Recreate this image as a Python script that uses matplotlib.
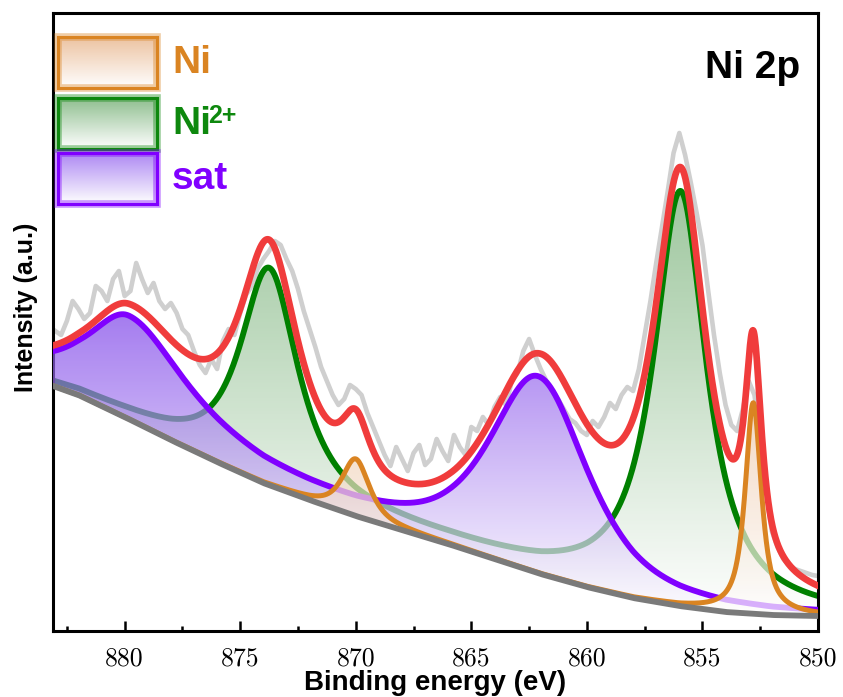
import numpy as np
import matplotlib
matplotlib.use('Agg')
import matplotlib.pyplot as plt
from matplotlib.patches import PathPatch, Rectangle
from matplotlib.ticker import MultipleLocator

plt.rcParams['font.family'] = ['Liberation Sans', 'DejaVu Sans']

# raw spectrum, 883 -> 850 eV every 0.25 eV (arbitrary intensity units)
raw_start, raw_step = 883.0, -0.25
raw_counts = [300, 296, 310, 330,   # 883
              322, 312, 318, 345,   # 882
              340, 330, 352, 360,   # 881
              335, 340, 368, 352,   # 880
              338, 348, 330, 322,   # 879
              328, 318, 302, 296,   # 878
              280, 266, 258, 272,   # 877
              262, 290, 302, 296,   # 876
              318, 336, 345, 362,   # 875
              372, 380, 390, 386,   # 874
              372, 360, 342, 320,   # 873
              302, 284, 264, 250,   # 872
              236, 226, 232, 246,   # 871
              242, 236, 218, 204,   # 870
              190, 176, 165, 184,   # 869
              172, 160, 178, 186,   # 868
              166, 172, 192, 180,   # 867
              170, 196, 184, 176,   # 866
              204, 200, 214, 206,   # 865
              224, 234, 226, 250,   # 864
              258, 280, 292, 276,   # 863
              262, 250, 240, 232,   # 862
              222, 212, 208, 200,   # 861
              196, 210, 204, 214,   # 860
              228, 222, 236, 244,   # 859
              240, 262, 296, 330,   # 858
              368, 404, 440, 478,   # 857
              498, 476, 448, 418,   # 856
              386, 340, 296, 258,   # 855
              226, 206, 200, 222,   # 854
              250, 236, 196, 140,   # 853
              100, 84, 72, 66,      # 852
              62, 60, 58, 56,       # 851
              55]                   # 850

# Shirley-type background
bg_energy = [883.1, 882, 880, 878, 876, 874, 872, 870, 868, 866,
             864, 862, 860, 858, 856, 854, 852, 850]
bg_counts = [245, 236, 214, 191, 169, 148, 131, 115, 101, 87,
             72, 57, 44, 33, 25, 19, 16, 15]

# fitted components: centre, height, hwhm (high-BE side), hwhm (low-BE side), lorentz fraction
ni_center = [870.0, 852.8]
ni_height = [57, 211]
ni_w_hi = [0.7, 0.42]
ni_w_lo = [0.7, 0.42]
ni_eta = [0.75, 0.85]

ni2_center = [873.75, 855.95]
ni2_height = [215, 414]
ni2_w_hi = [1.48, 1.4]
ni2_w_lo = [1.48, 1.35]
ni2_eta = [0.85, 0.95]

sat_center = [879.8, 862.1]
sat_height = [101, 194]
sat_w_hi = [2.3, 2.5]
sat_w_lo = [3.1, 2.5]
sat_eta = [1.0, 0.65]


def pvoigt(E, c, h, w_hi, w_lo, eta):
    w = np.where(E >= c, w_hi, w_lo)
    d = (E - c) / w
    return h * (eta / (1 + d ** 2) + (1 - eta) * np.exp(-np.log(2) * d ** 2))


def component(E, centers, heights, w_hi, w_lo, eta):
    total = np.zeros_like(E)
    for i in range(len(centers)):
        total += pvoigt(E, centers[i], heights[i], w_hi[i], w_lo[i], eta[i])
    return total


E = np.linspace(883.1, 850, 1600)
bg = np.interp(E, bg_energy[::-1], bg_counts[::-1])
ni = bg + component(E, ni_center, ni_height, ni_w_hi, ni_w_lo, ni_eta)
ni2 = bg + component(E, ni2_center, ni2_height, ni2_w_hi, ni2_w_lo, ni2_eta)
sat = bg + component(E, sat_center, sat_height, sat_w_hi, sat_w_lo, sat_eta)
env = ni + ni2 + sat - 2 * bg
E_raw = raw_start + raw_step * np.arange(len(raw_counts))

fig = plt.figure(figsize=(8.43, 6.97), dpi=100)
ax = fig.add_axes([53 / 843, 1 - 631 / 697, 765 / 843, 618 / 697])


def gradient_img(top_color, n=256):
    # colour fades from top_color (top row) to white (bottom row)
    top = np.array(matplotlib.colors.to_rgb(top_color))
    t = np.linspace(0, 1, n)[:, None]
    img = np.ones((n, 1, 4))
    img[:, 0, :3] = (1 - t) * 1.0 + t * top
    return img


def gradient_fill(ax, x, ylow, yhigh, color, alpha, z):
    poly = ax.fill_between(x, ylow, yhigh, facecolor='none', edgecolor='none')
    path = poly.get_paths()[0]
    poly.remove()
    patch = PathPatch(path, facecolor='none', edgecolor='none', transform=ax.transData)
    ax.add_patch(patch)
    im = ax.imshow(gradient_img(color), extent=[x.min(), x.max(), ylow.min(), yhigh.max()],
                   origin='lower', aspect='auto', zorder=z, alpha=alpha,
                   interpolation='bilinear')
    im.set_clip_path(patch)


ax.plot(E_raw, raw_counts, color='#CFCFCF', lw=3.3, zorder=1, solid_joinstyle='round')

gradient_fill(ax, E, bg, ni2, '#74AF74', 0.7, 2)
ax.plot(E, ni2, color='#008000', lw=4.2, zorder=2.5)
gradient_fill(ax, E, bg, sat, '#7E44E9', 0.7, 3)
ax.plot(E, sat, color='#8000FF', lw=4.2, zorder=3.5)
gradient_fill(ax, E, bg, ni, '#ECC3A1', 0.7, 4)
ax.plot(E, ni, color='#DA8422', lw=3.6, zorder=4.5)
ax.plot(E, bg, color='#7A7A7A', lw=4.2, zorder=5)
ax.plot(E, env, color='#F03C3C', lw=4.8, zorder=6)

ax.set_xlim(883.1, 850)
ax.set_ylim(0, 618)
ax.set_yticks([])
ax.xaxis.set_major_locator(MultipleLocator(5))
ax.xaxis.set_minor_locator(MultipleLocator(2.5))
ax.tick_params(axis='x', which='both', direction='in', top=False, width=1.8)
ax.tick_params(axis='x', which='major', length=7, pad=11)
ax.tick_params(axis='x', which='minor', length=3.5)
for s in ax.spines.values():
    s.set_linewidth(2.2)
for lab in ax.get_xticklabels():
    lab.set_fontfamily('cmr10')
    lab.set_fontsize(18.5)

ax.set_xlabel('Binding energy (eV)', fontsize=20, fontweight='bold', labelpad=0)
ax.set_ylabel('Intensity (a.u.)', fontsize=18, fontweight='bold')
ax.yaxis.set_label_coords(-0.02, 0.524)

ax.text(0.976, 0.94, 'Ni 2p', transform=ax.transAxes, ha='right', va='top',
        fontsize=28, fontweight='bold', color='black')

# legend drawn by hand: gradient boxes with thick borders
legend_items = [('Ni', '#DA8422', '#E8B48A', 37),
                ('Ni', '#0E880E', '#74AF74', 98),
                ('sat', '#8000FF', '#9A6CF0', 153)]
for label, edge, fillc, top in legend_items:
    lax = fig.add_axes([58 / 843, 1 - (top + 51) / 697, 99 / 843, 51 / 697])
    lax.imshow(gradient_img(fillc, 64), extent=[0, 1, 0, 1], aspect='auto',
               origin='lower', alpha=0.8)
    lax.set_xticks([])
    lax.set_yticks([])
    for s in lax.spines.values():
        s.set_color(edge)
        s.set_linewidth(2.2)
    lax.add_patch(Rectangle((0, 0), 1, 1, transform=lax.transAxes, fill=False,
                            lw=5.5, ec=edge, alpha=0.4, clip_on=False))
    fig.text(172 / 843, 1 - (top + 26) / 697, label, color=edge, fontsize=28,
             fontweight='bold', va='center', ha='left')
# superscript of Ni2+
fig.text(208 / 843, 1 - 104 / 697, '2+', color='#0E880E', fontsize=18,
         fontweight='bold', va='top', ha='left')

fig.savefig('out.png', dpi=100)
